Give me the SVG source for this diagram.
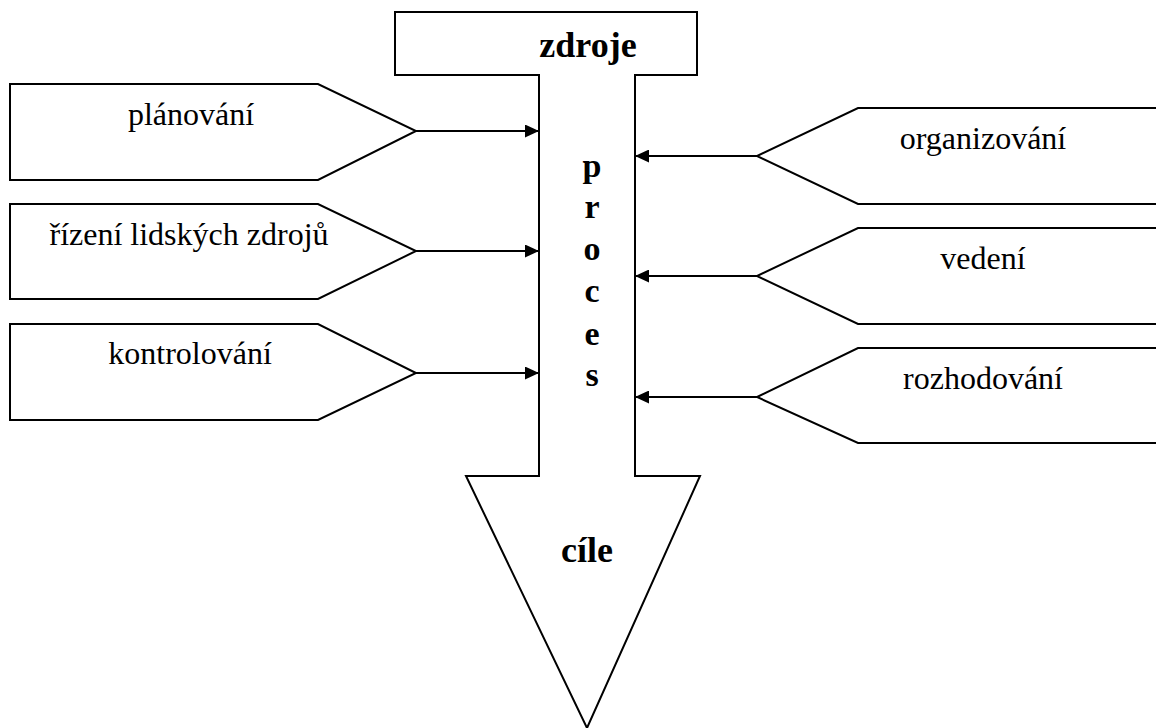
<svg xmlns="http://www.w3.org/2000/svg" width="1156" height="728" viewBox="0 0 1156 728">
  <style>
    .shape { fill: #ffffff; stroke: #000000; stroke-width: 2; stroke-linejoin: miter; }
    .lbl { font-family: "Liberation Serif", "DejaVu Serif", serif; font-size: 32px; fill: #000000; text-anchor: middle; }
    .bold { font-family: "Liberation Serif", "DejaVu Serif", serif; font-size: 36px; font-weight: bold; fill: #000000; text-anchor: middle; }
    .proc { font-size: 34px; }
    .conn { stroke: #000000; stroke-width: 2; fill: none; marker-end: url(#arrow); }
  </style>
  <defs>
    <marker id="arrow" viewBox="0 0 14 13" refX="14" refY="6.5" markerWidth="14" markerHeight="13" markerUnits="userSpaceOnUse" orient="auto">
      <path d="M0,0 L14,6.5 L0,13 z" fill="#000000"/>
    </marker>
  </defs>

  <!-- central T-shaped arrow: resources, process, goals -->
  <g id="main-arrow">
    <path class="shape" d="M395,12 H697 V75 H635 V476 H700 L587,728 L466,476 H539 V75 H395 Z"/>
    <text class="bold" x="588" y="57">zdroje</text>
    <text class="bold proc" x="592" y="177">p</text>
    <text class="bold proc" x="592" y="218">r</text>
    <text class="bold proc" x="592" y="260">o</text>
    <text class="bold proc" x="592" y="302">c</text>
    <text class="bold proc" x="592" y="345">e</text>
    <text class="bold proc" x="592" y="386">s</text>
    <text class="bold" x="587" y="562">cíle</text>
  </g>

  <!-- left-hand functions -->
  <g id="planovani">
    <path class="shape" d="M10,84 H318 L416,131 L318,180 H10 Z"/>
    <text class="lbl" x="191" y="125">plánování</text>
  </g>
  <g id="rizeni-lidskych-zdroju">
    <path class="shape" d="M10,204 H318 L416,251 L318,299 H10 Z"/>
    <text class="lbl" x="189" y="245">řízení lidských zdrojů</text>
  </g>
  <g id="kontrolovani">
    <path class="shape" d="M10,324 H318 L416,373 L318,420 H10 Z"/>
    <text class="lbl" x="190" y="364">kontrolování</text>
  </g>

  <!-- right-hand functions (open to the page edge) -->
  <g id="organizovani">
    <path class="shape" d="M1158,108 H858 L757,156 L858,204 H1158"/>
    <text class="lbl" x="983" y="149">organizování</text>
  </g>
  <g id="vedeni">
    <path class="shape" d="M1158,228 H858 L757,276 L858,324 H1158"/>
    <text class="lbl" x="983" y="269">vedení</text>
  </g>
  <g id="rozhodovani">
    <path class="shape" d="M1158,348 H858 L757,397 L858,443 H1158"/>
    <text class="lbl" x="983" y="389">rozhodování</text>
  </g>

  <g id="connectors">
    <line class="conn" x1="416" y1="131" x2="539" y2="131"/>
    <line class="conn" x1="416" y1="251" x2="539" y2="251"/>
    <line class="conn" x1="416" y1="373" x2="539" y2="373"/>
    <line class="conn" x1="757" y1="156" x2="635" y2="156"/>
    <line class="conn" x1="757" y1="276" x2="635" y2="276"/>
    <line class="conn" x1="757" y1="397" x2="635" y2="397"/>
  </g>
</svg>
